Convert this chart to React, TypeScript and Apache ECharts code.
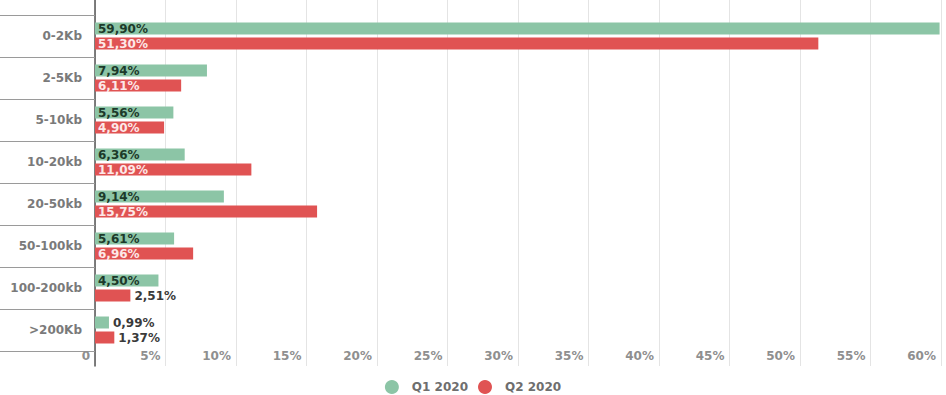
import React, { useEffect, useRef } from "react";
import * as echarts from "echarts";

const categories = ["0-2Kb", "2-5Kb", "5-10kb", "10-20kb", "20-50kb", "50-100kb", "100-200kb", ">200Kb"];
const q1Values = [59.9, 7.94, 5.56, 6.36, 9.14, 5.61, 4.5, 0.99];
const q2Values = [51.3, 6.11, 4.9, 11.09, 15.75, 6.96, 2.51, 1.37];
const seriesNames = ["Q1 2020", "Q2 2020"];
const xTicks = [0, 5, 10, 15, 20, 25, 30, 35, 40, 45, 50, 55, 60];

const FONT = "DejaVu Sans";
const fmt = (v: number) => v.toFixed(2).replace(".", ",") + "%";

function buildData(values: number[], insideColor: string) {
  return values.map((v) => {
    const outside = v < 4;
    return {
      value: v,
      label: outside
        ? { position: "right", distance: 4, color: "#3a3a3a" }
        : { position: "insideLeft", distance: 3, color: insideColor },
    };
  });
}

export default function App() {
  const ref = useRef<HTMLDivElement>(null);
  useEffect(() => {
    if (!ref.current) return;
    const chart = echarts.init(ref.current, undefined, { renderer: "svg" });
    const labelBase = {
      show: true,
      fontFamily: FONT,
      fontSize: 12,
      fontWeight: "bold",
      formatter: (p: any) => fmt(p.value),
    };
    chart.setOption({
      animation: false,
      legend: {
        top: 375,
        left: "center",
        padding: [5, 5, 0, 5],
        icon: "circle",
        itemWidth: 30,
        itemHeight: 14,
        itemGap: 10,
        data: seriesNames,
        textStyle: { fontFamily: FONT, fontSize: 12, fontWeight: "bold", color: "#6e6e6e" },
      },
      grid: [
        { left: 95, right: 5, top: 15, height: 336 },
        { left: 95, right: 5, top: 0, height: 366 },
      ],
      xAxis: [
        { gridIndex: 0, type: "value", min: 0, max: 60, interval: 5, show: false },
        {
          gridIndex: 1,
          type: "value",
          min: xTicks[0],
          max: xTicks[xTicks.length - 1],
          interval: 5,
          axisLine: { show: false },
          axisTick: { show: false },
          splitLine: { show: true, lineStyle: { color: "#e4e4e4", width: 1 } },
          axisLabel: {
            inside: true,
            margin: 4,
            align: "right",
            padding: [0, 5, 0, 0],
            fontFamily: FONT,
            fontSize: 12,
            fontWeight: "bold",
            color: "#8f8f8f",
            formatter: (v: number) => (v === 0 ? "0" : v + "%"),
          },
        },
      ],
      yAxis: [
        {
          gridIndex: 0,
          type: "category",
          inverse: true,
          data: categories,
          axisLine: { show: false },
          axisTick: { show: true, length: 95, interval: 0, lineStyle: { color: "#9a9a9a", width: 1 } },
          axisLabel: {
            margin: 13,
            fontFamily: FONT,
            fontSize: 12,
            fontWeight: "bold",
            color: "#7a7a7a",
            interval: 0,
          },
        },
        {
          gridIndex: 1,
          type: "value",
          min: 0,
          max: 1,
          axisLine: { show: true, lineStyle: { color: "#555", width: 1.5 } },
          axisTick: { show: false },
          axisLabel: { show: false },
          splitLine: { show: false },
        },
      ],
      series: [
        {
          name: seriesNames[0],
          type: "bar",
          xAxisIndex: 0,
          yAxisIndex: 0,
          barWidth: 12,
          barGap: "25%",
          itemStyle: { color: "#8cc5a6" },
          label: labelBase,
          data: buildData(q1Values, "#1c3a2a"),
        },
        {
          name: seriesNames[1],
          type: "bar",
          xAxisIndex: 0,
          yAxisIndex: 0,
          barWidth: 12,
          barGap: "25%",
          itemStyle: { color: "#e05353" },
          label: labelBase,
          data: buildData(q2Values, "#fde8e8"),
        },
      ],
    });
    return () => chart.dispose();
  }, []);
  return <div ref={ref} style={{ width: 946, height: 395, position: "absolute", left: 0, top: 0 }} />;
}
